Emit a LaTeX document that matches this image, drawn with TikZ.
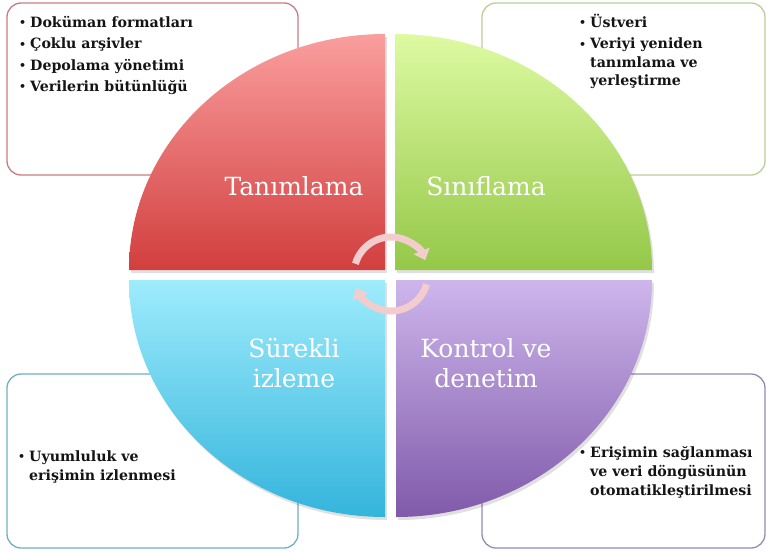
\documentclass[tikz,border=0pt]{standalone}
\usepackage{fontspec}
\setmainfont{DejaVu Serif}
\usetikzlibrary{arrows.meta}
\definecolor{redT}{RGB}{250,158,158}
\definecolor{redB}{RGB}{210,62,62}
\definecolor{grnT}{RGB}{222,250,162}
\definecolor{grnB}{RGB}{148,200,72}
\definecolor{bluT}{RGB}{158,236,252}
\definecolor{bluB}{RGB}{52,180,220}
\definecolor{purT}{RGB}{206,182,236}
\definecolor{purB}{RGB}{128,90,170}
\definecolor{redE}{RGB}{200,125,130}
\definecolor{grnE}{RGB}{186,206,150}
\definecolor{bluE}{RGB}{110,176,196}
\definecolor{purE}{RGB}{152,136,182}
\definecolor{arrowC}{RGB}{243,205,205}
\definecolor{txt}{RGB}{20,20,20}
\newcommand\bul{\makebox[11pt][l]{\raisebox{0.5pt}{\fontsize{11}{11}\selectfont\textbullet}}}
\begin{document}
\begin{tikzpicture}[x=1pt,y=-1pt,
  box/.style={rounded corners=14pt, line width=1.3pt, fill=white},
  item/.style={anchor=base west, inner sep=0pt, text=txt,
    font=\fontsize{14.2}{18}\selectfont\bfseries},
  lbl/.style={anchor=base, inner sep=0pt, text=white,
    font=\fontsize{25}{30}\selectfont},
  qshadow/.style={fill=black, fill opacity=0.12},
  cyc/.style={line width=7pt, draw=arrowC, -{Triangle[width=17pt,length=10pt]}}]
\useasboundingbox (0,0) rectangle (766,552);
% boxes
\draw[box, draw=redE] (7,3) rectangle (298,175);
\draw[box, draw=grnE] (482,3) rectangle (765,175);
\draw[box, draw=bluE] (7,374) rectangle (298,548);
\draw[box, draw=purE] (482,374) rectangle (765,548);
% shadows
\fill[qshadow] (131,273) arc[start angle=180, end angle=270, x radius=256, y radius=236] -- (387,273) -- cycle;
\fill[qshadow] (397,37) arc[start angle=270, end angle=360, x radius=257, y radius=236] -- (397,273) -- cycle;
\fill[qshadow] (131,283) arc[start angle=180, end angle=90, x radius=256, y radius=237] -- (387,283) -- cycle;
\fill[qshadow] (398,520) arc[start angle=90, end angle=0, x radius=256, y radius=237] -- (398,283) -- cycle;
% quadrants
\shade[top color=redT, bottom color=redB] (129,270) arc[start angle=180, end angle=270, x radius=256, y radius=236] -- (385,270) -- cycle;
\shade[top color=grnT, bottom color=grnB] (395,34) arc[start angle=270, end angle=360, x radius=257, y radius=236] -- (395,270) -- cycle;
\shade[top color=bluT, bottom color=bluB] (129,280) arc[start angle=180, end angle=90, x radius=256, y radius=237] -- (385,280) -- cycle;
\shade[top color=purT, bottom color=purB] (396,517) arc[start angle=90, end angle=0, x radius=256, y radius=237] -- (396,280) -- cycle;
% cycle arrows
\coordinate (c) at (391,274);
\draw[cyc] (c) ++(196:37) arc[start angle=196, end angle=338, radius=37];
\draw[cyc] (c) ++(16:37) arc[start angle=16, end angle=158, radius=37];
% quadrant labels
\node[lbl] (tan) at (294,195) {Tanımlama};
\node[lbl] (sin) at (486,195) {Sınıflama};
\node[lbl] (sur1) at (294,357) {Sürekli};
\node[lbl] (sur2) at (294,387) {izleme};
\node[lbl] (kon1) at (486,357) {Kontrol ve};
\node[lbl] (kon2) at (486,387) {denetim};
% top-left list
\node[item] (a1) at (19,27) {\bul Doküman formatları};
\node[item] (a2) at (19,48.5) {\bul Çoklu arşivler};
\node[item] (a3) at (19,70) {\bul Depolama yönetimi};
\node[item] (a4) at (19,91) {\bul Verilerin bütünlüğü};
% top-right list
\node[item] (b1) at (579,27) {\bul Üstveri};
\node[item] (b2) at (579,48.5) {\bul Veriyi yeniden};
\node[item] (b3) at (590,67) {tanımlama ve};
\node[item] (b4) at (590,85.5) {yerleştirme};
% bottom-left list
\node[item] (c1) at (18,461) {\bul Uyumluluk ve};
\node[item] (c2) at (29,480) {erişimin izlenmesi};
% bottom-right list
\node[item] (d1) at (579,457) {\bul Erişimin sağlanması};
\node[item] (d2) at (590,476) {ve veri döngüsünün};
\node[item] (d3) at (590,495) {otomatikleştirilmesi};
\end{tikzpicture}
\end{document}
